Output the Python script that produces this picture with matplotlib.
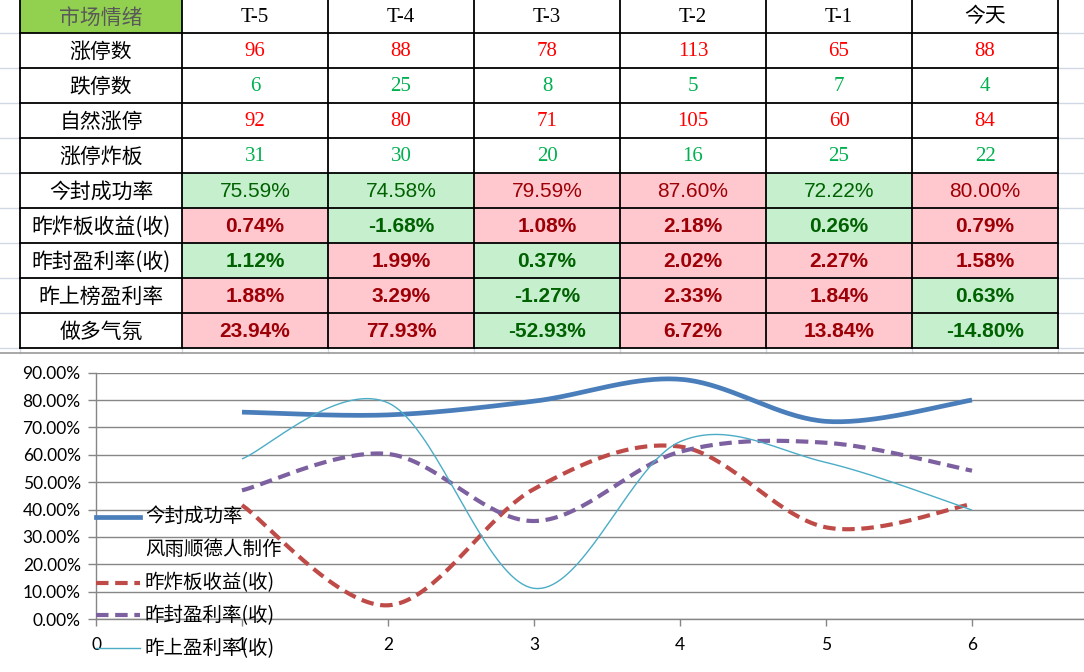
import numpy as np
import matplotlib
matplotlib.use("Agg")
import matplotlib.pyplot as plt
from matplotlib.patches import Rectangle
from matplotlib.lines import Line2D

# ---------------- data ----------------
header_title = "市场情绪"
columns = ["T-5", "T-4", "T-3", "T-2", "T-1", "今天"]

count_labels = ["涨停数", "跌停数", "自然涨停", "涨停炸板"]
limit_up = [96, 88, 78, 113, 65, 88]
limit_down = [6, 25, 8, 5, 7, 4]
natural_up = [92, 80, 71, 105, 60, 84]
broken_board = [31, 30, 20, 16, 25, 22]

pct_labels = ["今封成功率", "昨炸板收益(收)", "昨封盈利率(收)", "昨上榜盈利率", "做多气氛"]
seal_rate = [75.59, 74.58, 79.59, 87.60, 72.22, 80.00]
broken_return = [0.74, -1.68, 1.08, 2.18, 0.26, 0.79]
seal_profit = [1.12, 1.99, 0.37, 2.02, 2.27, 1.58]
list_profit = [1.88, 3.29, -1.27, 2.33, 1.84, 0.63]
bull_mood = [23.94, 77.93, -52.93, 6.72, 13.84, -14.80]
# conditional-format state per cell: g = green, r = red
seal_rate_state = "ggrrgr"
broken_return_state = "rgrrgr"
seal_profit_state = "grgrrr"
list_profit_state = "rrgrrg"
bull_mood_state = "rrgrrg"

# chart series (x = 1..6)
chart_x = [1, 2, 3, 4, 5, 6]
chart_seal = [0.7559, 0.7458, 0.7959, 0.8760, 0.7222, 0.8000]
chart_broken = [0.416, 0.050, 0.475, 0.630, 0.335, 0.420]
chart_sealp = [0.470, 0.603, 0.358, 0.611, 0.644, 0.542]
chart_list = [0.585, 0.790, 0.112, 0.648, 0.572, 0.398]
legend_labels = ["今封成功率", "风雨顺德人制作", "昨炸板收益(收)", "昨封盈利率(收)", "昨上盈利率(收)"]
y_ticks = [0.0, 0.1, 0.2, 0.3, 0.4, 0.5, 0.6, 0.7, 0.8, 0.9]
x_ticks = [0, 1, 2, 3, 4, 5, 6]

# ---------------- figure ----------------
W, H = 1084, 672
fig = plt.figure(figsize=(W / 100, H / 100), dpi=100)
fig.patch.set_facecolor("white")

CJK = ["Noto Sans CJK SC", "DejaVu Sans"]
SERIF = ["Liberation Serif", "Noto Sans CJK SC"]
SANS = ["Liberation Sans", "Noto Sans CJK SC"]
CHART_FONT = ["Lato", "Noto Sans CJK SC"]


def smooth(xs, ys, n=40):
    pts = np.column_stack([xs, ys]).astype(float)
    P = np.vstack([pts[0], pts, pts[-1]])
    out = []
    t = np.linspace(0, 1, n)[:, None]
    for i in range(1, len(P) - 2):
        p0, p1, p2, p3 = P[i - 1], P[i], P[i + 1], P[i + 2]
        c1 = p1 + (p2 - p0) / 6.0
        c2 = p2 - (p3 - p1) / 6.0
        seg = (1 - t) ** 3 * p1 + 3 * (1 - t) ** 2 * t * c1 + 3 * (1 - t) * t ** 2 * c2 + t ** 3 * p2
        out.append(seg if i == 1 else seg[1:])
    s = np.vstack(out)
    return s[:, 0], s[:, 1]


# ---------------- chart axes ----------------
x0_px, y0_px, ytop_px = 96, 619, 372.7
xunit = 146.0
ax = fig.add_axes([x0_px / W, (H - y0_px) / H, (W - x0_px) / W, (y0_px - ytop_px) / H])
ax.set_zorder(1)
ax.set_xlim(0, (W - x0_px) / xunit)
ax.set_ylim(0, 0.9)
ax.set_yticks(y_ticks)
ax.set_yticklabels([f"{v*100:.2f}%" for v in y_ticks])
ax.set_xticks(x_ticks)
ax.set_xticklabels([str(v) for v in x_ticks])
grid_c = "#868686"
ax.grid(axis="y", color=grid_c, lw=1.0)
ax.set_axisbelow(True)
for s in ["top", "right"]:
    ax.spines[s].set_visible(False)
for s in ["left", "bottom"]:
    ax.spines[s].set_color(grid_c)
    ax.spines[s].set_linewidth(1.0)
ax.tick_params(axis="y", direction="out", length=6, width=1, color=grid_c, pad=5, labelsize=12.5)
ax.tick_params(axis="x", direction="out", length=5, width=1, color=grid_c, pad=8, labelsize=12.5)
for lab in ax.get_xticklabels() + ax.get_yticklabels():
    lab.set_family(CHART_FONT)
    lab.set_color("#000000")

styles = [
    dict(color="#4A7EBB", lw=3.4, ls="-"),
    None,
    dict(color="#BE4B48", lw=3.0, ls=(0, (3.0, 1.6))),
    dict(color="#7D60A0", lw=3.0, ls=(0, (3.0, 1.6))),
    dict(color="#4BACC6", lw=1.0, ls="-"),
]
series = [chart_seal, None, chart_broken, chart_sealp, chart_list]
for st, ys in zip(styles, series):
    if ys is None:
        continue
    sx, sy = smooth(chart_x, ys)
    ax.plot(sx, sy, color=st["color"], lw=st["lw"], linestyle=st["ls"], solid_capstyle="butt", clip_on=False)

# ---------------- overlay (table + legend) ----------------
ov = fig.add_axes([0, 0, 1, 1])
ov.set_zorder(2)
ov.patch.set_visible(False)
ov.set_xlim(0, W)
ov.set_ylim(H, 0)
ov.axis("off")

col_edges = [20, 182, 328, 474, 620, 766, 912, 1058]
row_edges = [0, 33, 68, 103, 138, 173, 208, 243, 278, 313, 348]

# spreadsheet faint gridlines outside the table
faint = "#D0D7E5"
for y in row_edges[1:]:
    ov.plot([0, col_edges[0]], [y, y], color=faint, lw=1.0)
    ov.plot([col_edges[-1], W], [y, y], color=faint, lw=1.0)
for x in col_edges:
    ov.plot([x, x], [348, 353], color=faint, lw=1.0)

GREEN_BG, GREEN_FG = "#C6EFCE", "#006100"
RED_BG, RED_FG = "#FFC7CE", "#9C0006"

def cell(r, c, fc):
    x0, x1 = col_edges[c], col_edges[c + 1]
    y0, y1 = row_edges[r], row_edges[r + 1]
    ov.add_patch(Rectangle((x0, y0), x1 - x0, y1 - y0, facecolor=fc, edgecolor="none"))
    return (x0 + x1) / 2, (y0 + y1) / 2

# header
cx, cy = cell(0, 0, "#92D050")
ov.text(cx, cy + 1, header_title, family=CJK, fontsize=15, color="#595959", ha="center", va="center")
for j, name in enumerate(columns):
    cx, cy = cell(0, j + 1, "white")
    ov.text(cx, cy + 1, name, family=SERIF, fontsize=15, color="black", ha="center", va="center")

count_rows = [limit_up, limit_down, natural_up, broken_board]
count_colors = ["#FF0000", "#00B050", "#FF0000", "#00B050"]
for i, (lab, vals, colr) in enumerate(zip(count_labels, count_rows, count_colors)):
    r = i + 1
    cx, cy = cell(r, 0, "white")
    ov.text(cx, cy + 1, lab, family=CJK, fontsize=15, color="black", ha="center", va="center")
    for j, v in enumerate(vals):
        cx, cy = cell(r, j + 1, "white")
        ov.text(cx, cy + 1, str(v), family=SERIF, fontsize=15, color=colr, ha="center", va="center")

pct_rows = [seal_rate, broken_return, seal_profit, list_profit, bull_mood]
pct_states = [seal_rate_state, broken_return_state, seal_profit_state, list_profit_state, bull_mood_state]
for i, (lab, vals, states) in enumerate(zip(pct_labels, pct_rows, pct_states)):
    r = i + 5
    cx, cy = cell(r, 0, "white")
    ov.text(cx, cy + 1, lab, family=CJK, fontsize=15, color="black", ha="center", va="center")
    for j, (v, st) in enumerate(zip(vals, states)):
        bg, fg = (GREEN_BG, GREEN_FG) if st == "g" else (RED_BG, RED_FG)
        cx, cy = cell(r, j + 1, bg)
        ov.text(cx, cy + 1, f"{v:.2f}%", family=SANS, fontsize=15, color=fg,
                fontweight="normal" if i == 0 else "bold", ha="center", va="center")

# table borders
for y in row_edges[1:]:
    ov.plot([col_edges[0], col_edges[-1]], [y, y], color="black", lw=1.3)
for x in col_edges:
    ov.plot([x, x], [0, row_edges[-1]], color="black", lw=1.3)

# chart object border
ov.plot([0, W], [353, 353], color="#9A9A9A", lw=1.2)

# legend
leg_y0, leg_dy = 516.7, 32.9
for k, (lab, st) in enumerate(zip(legend_labels, styles)):
    y = leg_y0 + k * leg_dy
    if st is not None:
        ov.add_line(Line2D([96, 140], [y, y], color=st["color"], lw=st["lw"], linestyle=st["ls"]))
    ov.text(145, y, lab, family=CJK, fontsize=14, color="black", ha="left", va="center")

fig.savefig("out.png", dpi=100, facecolor="white")
